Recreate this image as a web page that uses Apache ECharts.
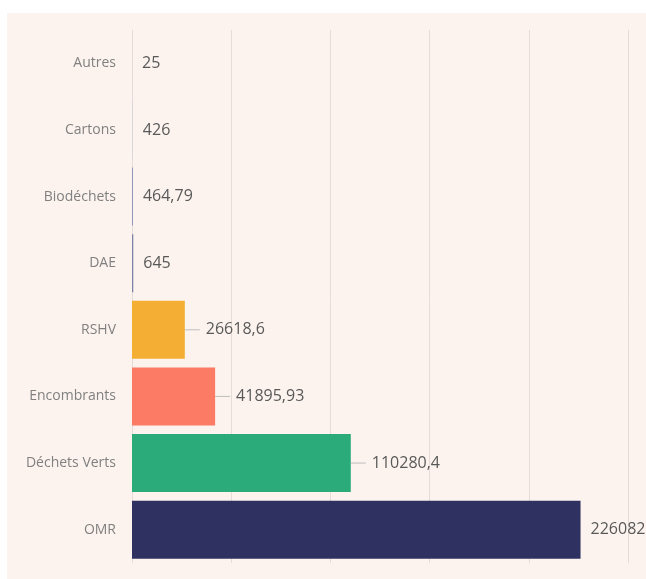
<!DOCTYPE html>
<html>
<head>
<meta charset="utf-8">
<script src="https://cdn.jsdelivr.net/npm/echarts@6/dist/echarts.min.js"></script>
<style>
  html, body { margin: 0; padding: 0; background: #ffffff; }
  #chart { position: absolute; left: 7px; top: 13px; width: 639px; height: 566px; background: #fcf3ee; }
</style>
</head>
<body>
<div id="chart"></div>
<script>
var categories = ['Autres', 'Cartons', 'Biodéchets', 'DAE', 'RSHV', 'Encombrants', 'Déchets Verts', 'OMR'];
var values = [25, 426, 464.79, 645, 26618.6, 41895.93, 110280.4, 226082];
var leaderLine = [false, false, false, false, true, true, true, false];

var colors = ['#e6e0e6', '#d9d5df', '#8a8fb5', '#7c82a8', '#f3ae33', '#fc7b65', '#2bab79', '#2f3260'];

var dom = document.getElementById('chart');
var myChart = echarts.init(dom);

function fmt(v) {
    return String(v).replace('.', ',');
}

var seriesData = values.map(function (v, i) {
    return {
        value: v,
        itemStyle: { color: colors[i] },
        label: {
            distance: leaderLine[i] ? 0 : 10,
            formatter: leaderLine[i] ? '{l|}{g|}{v|' + fmt(v) + '}' : '{v|' + fmt(v) + '}'
        }
    };
});

var option = {
    animation: false,
    grid: { left: 125, right: 18, top: 17, bottom: 16 },
    xAxis: {
        type: 'value',
        min: 0,
        max: 250000,
        interval: 50000,
        axisLabel: { show: false },
        axisLine: { show: false },
        axisTick: { show: false },
        splitLine: { show: true, lineStyle: { color: '#e3dcd9', width: 1 } }
    },
    yAxis: {
        type: 'category',
        inverse: true,
        data: categories,
        axisLine: { show: false },
        axisTick: { show: false },
        axisLabel: {
            margin: 16,
            color: '#808080',
            fontSize: 14,
            fontFamily: 'Open Sans'
        }
    },
    series: [{
        type: 'bar',
        data: seriesData,
        barWidth: 58,
        label: {
            show: true,
            position: 'right',
            rich: {
                l: { width: 15, height: 1, backgroundColor: '#bdbdbd' },
                g: { width: 6 },
                v: { color: '#595959', fontSize: 16, fontFamily: 'Open Sans' }
            }
        }
    }]
};

if (option && typeof option === 'object') {
    myChart.setOption(option);
}
</script>
</body>
</html>
